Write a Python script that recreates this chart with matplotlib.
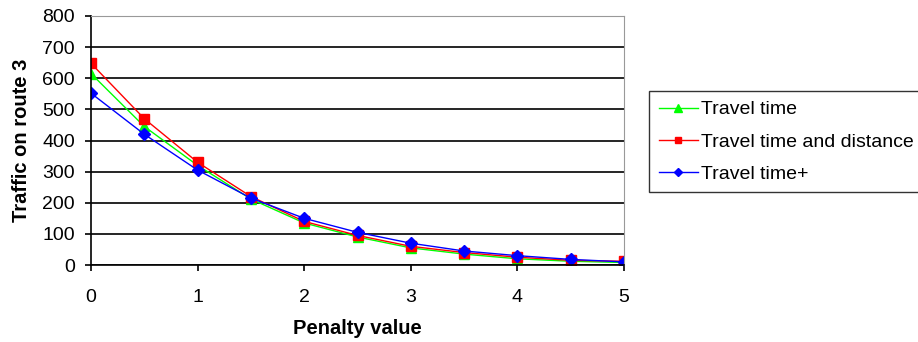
import matplotlib.pyplot as plt

plt.rcParams['font.family'] = ['Liberation Sans', 'DejaVu Sans']

# penalty values on the x axis
penalty = [0, 0.5, 1, 1.5, 2, 2.5, 3, 3.5, 4, 4.5, 5]

# traffic on route 3
travel_time = [615, 445, 320, 212, 135, 90, 55, 35, 20, 12, 8]
travel_time_distance = [648, 470, 330, 220, 140, 95, 60, 40, 25, 15, 12]
travel_time_plus = [552, 420, 305, 215, 150, 105, 70, 45, 30, 18, 10]

fig = plt.figure(figsize=(9.18, 3.42), dpi=100)
ax = fig.add_axes([91 / 918, 1 - 265 / 342, (624 - 91) / 918, (265 - 16) / 342])

ax.plot(penalty, travel_time, color='#00ff00', marker='^', markersize=7.5, linewidth=1, label='Travel time')
ax.plot(penalty, travel_time_distance, color='#ff0000', marker='s', markersize=7, linewidth=1, label='Travel time and distance')
ax.plot(penalty, travel_time_plus, color='#0000ff', marker='D', markersize=6, linewidth=1, label='Travel time+')

ax.set_xlim(0, 5)
ax.set_ylim(0, 800)
ax.set_xticks(range(6))
ax.set_yticks(range(0, 801, 100))
ax.grid(axis='y', color='black', linewidth=1.2)
ax.set_axisbelow(True)

for side in ['top', 'right']:
    ax.spines[side].set_color('#999999')
for side in ['left', 'bottom']:
    ax.spines[side].set_color('black')
    ax.spines[side].set_linewidth(1.2)

ax.tick_params(axis='both', labelsize=14, length=4.5, width=1.2, direction='out')
ax.tick_params(axis='y', pad=7)
ax.tick_params(axis='x', pad=13)

ax.set_xlabel('Penalty value', fontsize=14.5, fontweight='bold', labelpad=9)
ax.set_ylabel('Traffic on route 3', fontsize=14.5, fontweight='bold', labelpad=8)

leg = ax.legend(loc='upper left', bbox_to_anchor=(649 / 918, 1 - 91 / 342), bbox_transform=fig.transFigure,
                fontsize=14, frameon=True, fancybox=False, edgecolor='black', borderaxespad=0,
                handlelength=2.0, labelspacing=0.75, handletextpad=0.15, borderpad=0.5, markerscale=0.7)
leg.get_frame().set_linewidth(1)

fig.savefig('out.png', dpi=100)
